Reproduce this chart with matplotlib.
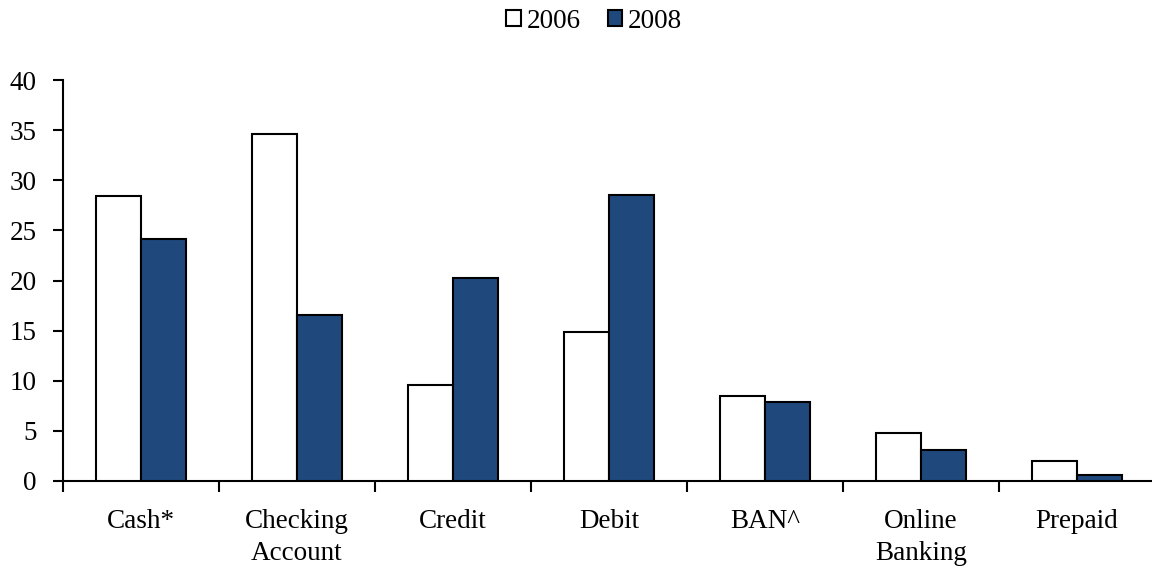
import numpy as np
import matplotlib.pyplot as plt
from matplotlib.patches import Patch

plt.rcParams['font.family'] = ['Liberation Serif', 'DejaVu Serif']

categories = ['Cash*', 'Checking\nAccount', 'Credit', 'Debit', 'BAN^', 'Online\nBanking', 'Prepaid']
values_2006 = [28.4, 34.6, 9.6, 14.9, 8.5, 4.8, 2.0]
values_2008 = [24.1, 16.6, 20.2, 28.5, 7.9, 3.1, 0.6]
series_labels = ['2006', '2008']

BLUE = '#1f497d'
FS = 19.5

fig = plt.figure(figsize=(11.52, 5.74), dpi=100)
ax = fig.add_axes([63 / 1152, 93 / 574, 1092 / 1152, 401 / 574])

x = np.arange(len(categories))
w = 0.29
ax.bar(x - w / 2, values_2006, w, color='white', edgecolor='black', linewidth=1.5, zorder=3)
ax.bar(x + w / 2, values_2008, w, color=BLUE, edgecolor='black', linewidth=1.5, zorder=3)

ax.set_xlim(-0.5, len(categories) - 0.5)
ax.set_ylim(0, 40)
ax.set_yticks(range(0, 41, 5))

# category labels sit between the boundary ticks
ax.set_xticks(x - 0.5)
ax.set_xticklabels([])
ax.set_xticks(x, minor=True)
ax.set_xticklabels(categories, minor=True, fontsize=FS, linespacing=1.4)
ax.tick_params(axis='x', which='major', direction='out', length=8, width=1.5)
ax.tick_params(axis='x', which='minor', length=0, pad=20)
ax.tick_params(axis='y', direction='out', length=7, width=1.5, pad=12, labelsize=FS)

for side in ['top', 'right']:
    ax.spines[side].set_visible(False)
for side in ['left', 'bottom']:
    ax.spines[side].set_linewidth(1.5)
ax.spines['left'].set_zorder(4)

handles = [Patch(facecolor='white', edgecolor='black', linewidth=1.5),
           Patch(facecolor=BLUE, edgecolor='black', linewidth=1.5)]
fig.legend(handles, series_labels, loc='center', bbox_to_anchor=(594 / 1152, 1 - 21 / 574),
           ncol=2, frameon=False, fontsize=FS, handlelength=0.55, handleheight=0.55,
           handletextpad=0.2, columnspacing=1.0)

fig.savefig('out.png', dpi=100)
